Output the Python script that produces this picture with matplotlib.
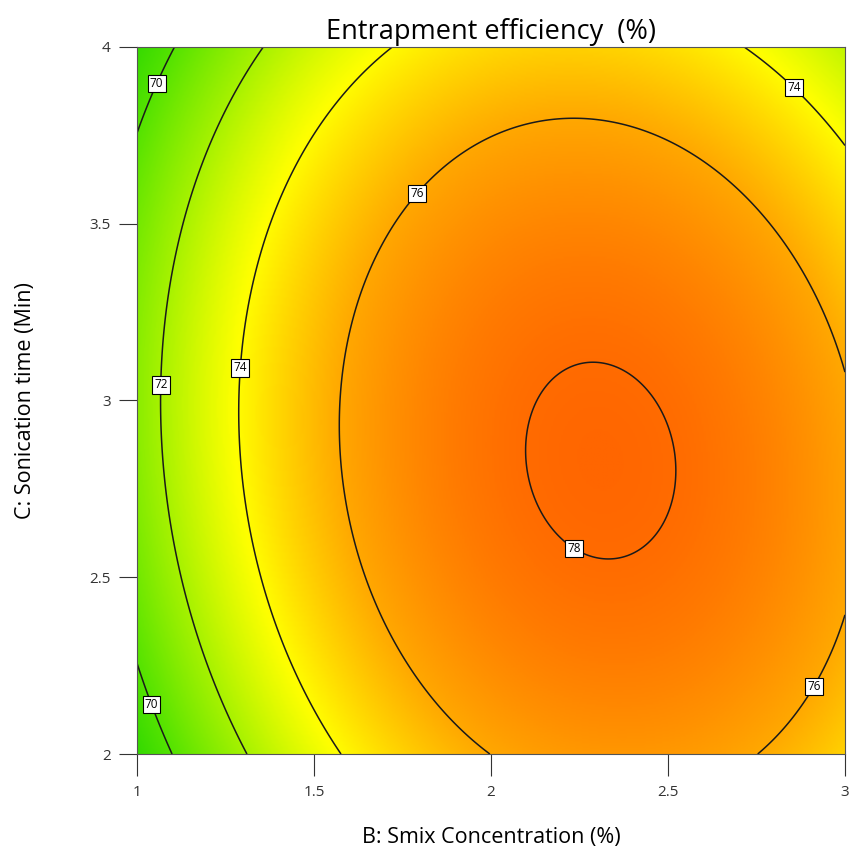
import numpy as np
import matplotlib
matplotlib.use('Agg')
import matplotlib.pyplot as plt
from matplotlib.colors import LinearSegmentedColormap, Normalize

# STYLE
TEXT_COLOR = '#000000'
TICK_COLOR = '#333333'
FRAME_COLOR = '#555555'
FONT_FAMILY = ['Open Sans', 'DejaVu Sans']

plt.rcParams.update({
    'font.family': FONT_FAMILY,
    'text.color': TEXT_COLOR,
    'axes.edgecolor': FRAME_COLOR,
    'xtick.color': TICK_COLOR,
    'ytick.color': TICK_COLOR,
})

# DATA
# fitted quadratic response surface: Y = peak - kB*u^2 - kC*v^2 - kBC*u*v
# with u = B - b_center, v = C - c_center
peak_value = 78.18
b_center = 2.31
c_center = 2.83
k_bb = 4.04
k_cc = 2.35
k_bc = 0.634

b_range = [1.0, 3.0]
c_range = [2.0, 4.0]
contour_levels = [70, 72, 74, 76, 78]
x_ticks = [1, 1.5, 2, 2.5, 3]
x_tick_labels = ['1', '1.5', '2', '2.5', '3']
y_ticks = [2, 2.5, 3, 3.5, 4]
y_tick_labels = ['2', '2.5', '3', '3.5', '4']

# colour scale: response value -> colour
color_values = [68.9, 70.0, 72.0, 73.9, 76.0, 78.2]
color_stops = ['#33d900', '#55e300', '#a8f200', '#ffff00', '#ffa800', '#ff6600']

# label anchor points (B, C) for the contour labels
label_points = [(1.051, 3.898), (1.051, 2.144), (1.073, 3.044), (1.294, 3.092),
                (2.864, 3.893), (1.78, 3.595), (2.895, 2.201), (2.243, 2.594)]

# SURFACE
B = np.linspace(b_range[0], b_range[1], 400)
C = np.linspace(c_range[0], c_range[1], 400)
BB, CC = np.meshgrid(B, C)
u = BB - b_center
v = CC - c_center
Y = peak_value - k_bb * u**2 - k_cc * v**2 - k_bc * u * v

vmin, vmax = color_values[0], color_values[-1]
pos = [(val - vmin) / (vmax - vmin) for val in color_values]
cmap = LinearSegmentedColormap.from_list('de', list(zip(pos, color_stops)))

# PLOT
fig = plt.figure(figsize=(8.53, 8.55), dpi=100)
ax = fig.add_axes([0.1606, 0.1181, 0.830, 0.827])

ax.imshow(Y, extent=[b_range[0], b_range[1], c_range[0], c_range[1]], origin='lower',
          cmap=cmap, norm=Normalize(vmin, vmax), aspect='auto', interpolation='bilinear')
cs = ax.contour(BB, CC, Y, levels=contour_levels, colors='#1a1a1a', linewidths=1.1)
labels = ax.clabel(cs, fmt='%d', inline=False, fontsize=8.5, manual=label_points)
for t in labels:
    t.set_rotation(0)
    t.set_color('black')
    t.set_bbox(dict(facecolor='white', edgecolor='black', linewidth=0.8, pad=1.5))

ax.set_xlim(b_range)
ax.set_ylim(c_range)
ax.set_xticks(x_ticks)
ax.set_xticklabels(x_tick_labels, fontsize=11)
ax.set_yticks(y_ticks)
ax.set_yticklabels(y_tick_labels, fontsize=11)
ax.tick_params(axis='x', length=16, width=0.8, pad=6)
ax.tick_params(axis='y', length=13, width=0.8, pad=6)
for sp in ax.spines.values():
    sp.set_linewidth(0.8)

ax.set_title('Entrapment efficiency  (%)', fontsize=19.5, pad=6)
ax.set_xlabel('B: Smix Concentration (%)', fontsize=15.5)
ax.set_ylabel('C: Sonication time (Min)', fontsize=15.5)
ax.xaxis.set_label_coords(0.5, -0.103)
ax.yaxis.set_label_coords(-0.142, 0.5)

plt.savefig('out.png', dpi=100)
plt.close()
